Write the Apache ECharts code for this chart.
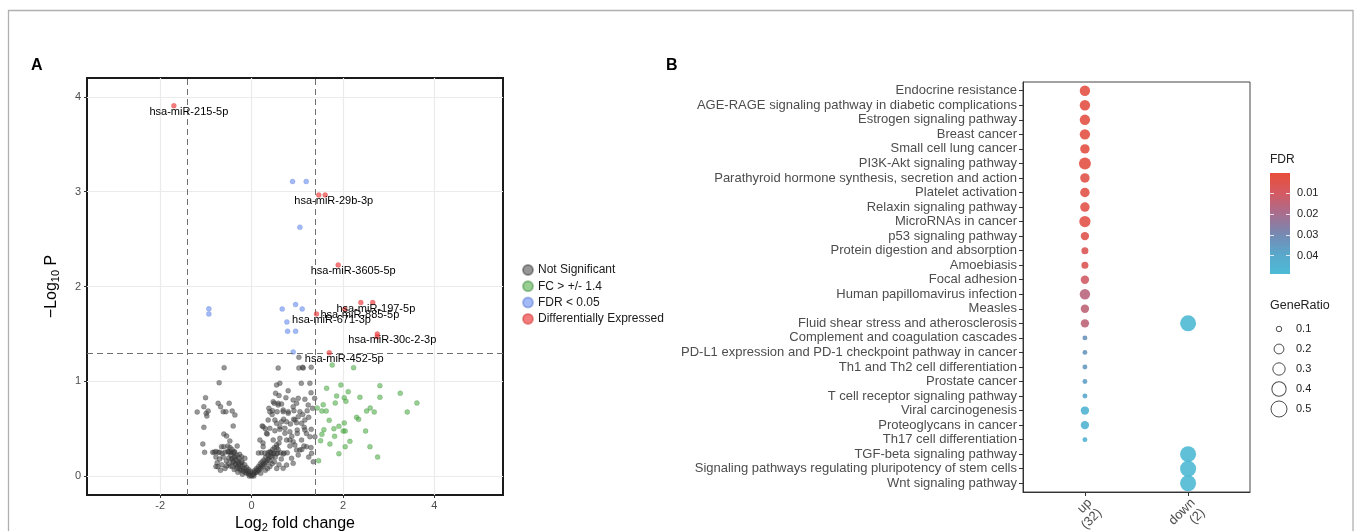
<!DOCTYPE html>
<html><head><meta charset="utf-8">
<script src="https://cdn.jsdelivr.net/npm/echarts@6/dist/echarts.min.js"></script>
<style>html,body{margin:0;padding:0;background:#fff}#c{width:1356px;height:531px}</style>
</head><body><div id="c"></div>
<script>
// ---------- Panel A: volcano ----------
const volcanoXTicks = [-2, 0, 2, 4];
const volcanoYTicks = [0, 1, 2, 3, 4];
const fcCut = 1.4;
const pCut = 1.30103;
const legendNames = ['Not Significant', 'FC > +/- 1.4', 'FDR < 0.05', 'Differentially Expressed'];

const notSigPoints = [
  [-0.60,1.144],[-0.709,0.985],[-1.007,0.827],[-1.044,0.732],[-0.95,0.686],[-0.993,0.662],[-0.978,0.634],[-1.19,0.676],
  [-0.731,0.768],[-0.678,0.732],[-0.49,0.768],[-0.621,0.679],[-0.562,0.679],[-0.424,0.686],[-0.365,0.644],[-1.044,0.514],
  [-0.402,0.528],[-0.606,0.443],[-0.547,0.422],[-0.475,0.370],[-1.066,0.338],[-1.028,0.250],[-0.818,0.250],[-0.731,0.250],
  [-0.657,0.310],[-0.606,0.310],[-0.519,0.317],[-0.315,0.317],[-0.49,0.250],[-0.402,0.246],[-0.263,0.229],[-0.753,0.141],
  [-0.737,0.099],[-0.547,0.106],[-0.468,0.106],[-0.402,0.151],[-0.328,0.081],[-0.219,0.204],[-0.147,0.187],
  [-0.85,0.25],[-0.78,0.26],[-0.70,0.25],[-0.64,0.24],[-0.58,0.25],[-0.52,0.26],[-0.45,0.25],[-0.38,0.26],
  [-0.78,0.2],[-0.7,0.18],[-0.62,0.2],[-0.55,0.16],[-0.5,0.19],[-0.44,0.18],[-0.36,0.2],[-0.3,0.16],[-0.65,0.12],
  [-0.58,0.08],[-0.5,0.13],[-0.42,0.1],[-0.35,0.13],[-0.28,0.12],[-0.22,0.14],[-0.25,0.06],[-0.78,0.1],[-0.68,0.06],
  [-0.45,0.22],[-0.42,0.18],[-0.4,0.15],[-0.38,0.2],[-0.35,0.12],[-0.33,0.17],[-0.3,0.1],[-0.28,0.14],[-0.26,0.08],
  [-0.24,0.12],[-0.22,0.07],[-0.2,0.1],[-0.18,0.05],[-0.16,0.08],[-0.14,0.04],[-0.12,0.06],[-0.1,0.03],[-0.08,0.05],
  [-0.06,0.02],[-0.04,0.03],[-0.02,0.01],[0,0],[0.02,0.01],[0.04,0.02],[0.06,0.03],[0.08,0.04],[0.1,0.05],[0.12,0.04],
  [0.14,0.07],[0.16,0.06],[0.18,0.09],[0.2,0.08],[0.22,0.11],[0.24,0.1],[0.26,0.13],[0.28,0.12],[0.3,0.15],[0.32,0.14],
  [0.35,0.17],[0.38,0.19],[0.4,0.16],[0.42,0.21],[0.45,0.2],[0.48,0.24],
  [-0.5,0.26],[-0.47,0.3],[-0.43,0.28],[-0.37,0.25],[-0.32,0.22],[-0.27,0.19],[-0.21,0.15],[-0.15,0.12],[-0.11,0.09],
  [-0.07,0.07],[-0.03,0.05],[0.03,0.04],[0.07,0.06],[0.11,0.08],[0.15,0.1],[0.19,0.13],[0.23,0.15],[0.27,0.17],
  [0.31,0.2],[0.36,0.22],[0.41,0.25],[0.46,0.28],[0.5,0.3],[0.55,0.33],[0.6,0.35],[0.52,0.2],[0.58,0.28],
  [-0.3,0.04],[-0.2,0.02],[0.2,0.03],[0.3,0.06],[0.35,0.08],[-0.38,0.07],[0.4,0.1],[0.45,0.13],[0.05,0.0],[-0.05,0.0],
  [1.035,1.253],[0.582,1.140],[1.035,1.140],[1.129,1.140],[0.619,0.979],[0.547,0.961],[1.088,0.979],[1.276,0.979],
  [0.525,0.873],[0.751,0.827],[0.910,0.803],[1.020,0.820],[1.166,0.810],[0.495,0.768],[0.582,0.768],[0.656,0.760],
  [0.985,0.768],[1.239,0.750],[0.379,0.715],[0.459,0.690],[0.560,0.679],[0.691,0.679],[0.801,0.679],[0.926,0.690],
  [1.057,0.679],[1.217,0.690],[1.335,0.715],[0.363,0.591],[0.547,0.556],[0.656,0.573],[0.766,0.573],[0.948,0.591],
  [0.985,0.563],[1.166,0.591],[0.400,0.503],[0.510,0.478],[0.619,0.493],[0.729,0.503],[0.838,0.468],[0.998,0.486],
  [1.151,0.514],[1.304,0.493],[0.232,0.528],[0.341,0.444],[0.473,0.380],[0.619,0.398],[0.766,0.380],[0.910,0.363],
  [1.094,0.380],[1.203,0.309],[1.385,0.415],[0.838,0.317],[0.985,0.275],[1.145,0.317],[1.313,0.240],[1.020,0.222],
  [0.875,0.187],[0.766,0.116],[0.910,0.134],[0.691,0.081],
  [0.15,0.243],[0.22,0.245],[0.29,0.243],[0.36,0.245],[0.43,0.243],[0.50,0.245],[0.57,0.243],[0.64,0.245],[0.71,0.243],[0.78,0.245],
  [1.116,1.148],[1.304,1.148],
  [1.3,0.3],[1.35,0.15],[1.25,0.2],[1.1,0.28],[1.0,0.45],[0.85,0.55],[0.7,0.6],[0.45,0.65],[0.3,0.5],[0.25,0.35],
  [0.55,0.3],[0.65,0.18],[0.6,0.12],[0.55,0.08],[0.5,0.15],[1.2,0.45],[1.25,0.62],[0.88,0.42],[0.92,0.6],[1.12,0.65],
  [0.6,0.85],[0.8,0.9],[1.38,0.82],[1.3,0.88],
  [0.474,0.785],[0.582,0.750],[0.692,0.697],[0.801,0.662],[0.911,0.732],[1.020,0.626],[1.094,0.556],[1.166,0.486],
  [1.276,0.415],[0.400,0.679],[0.510,0.591],[0.619,0.521],[0.729,0.451],[0.838,0.380],[0.947,0.327],[1.057,0.275],
  [0.254,0.521],[0.328,0.451],[0.182,0.380],[0.254,0.310],[0.400,0.257],[0.547,0.236],[0.692,0.232]
];

const fcPoints = [
  [1.764,1.172],[2.232,1.144],[1.641,0.926],[1.954,0.961],[2.114,0.890],[2.807,0.954],[1.860,0.845],[2.027,0.827],
  [2.807,0.831],[3.252,0.873],[2.370,0.831],[1.436,0.718],[1.567,0.753],[1.830,0.771],[2.064,0.789],[1.538,0.686],
  [1.633,0.686],[2.516,0.686],[2.595,0.718],[2.683,0.676],[3.405,0.676],[3.617,0.771],[2.297,0.620],[2.341,0.599],
  [1.698,0.588],[2.027,0.560],[1.910,0.525],[1.801,0.500],[1.582,0.489],[1.538,0.440],[2.004,0.475],[2.048,0.475],
  [2.494,0.475],[1.816,0.419],[2.151,0.366],[1.510,0.373],[1.713,0.338],[2.048,0.310],[2.589,0.310],[1.910,0.236],
  [2.757,0.201],[1.466,0.162]
];

const fdrPoints = [
  [0.897,3.108],[1.195,3.108],[1.057,2.626],[0.67,1.763],[0.963,1.809],[1.107,1.763],[0.772,1.626],[0.788,1.528],
  [0.963,1.528],[0.91,1.309],[-0.934,1.764],[-0.934,1.71]
];

const dePoints = [
  [-1.70,3.907],[1.47,2.965],[1.61,2.965],[1.895,2.228],[2.39,1.83],[2.65,1.83],[2.04,1.76],[1.42,1.71],
  [2.75,1.50],[2.75,1.47],[1.70,1.30]
];
const deLabels = [
  'hsa-miR-215-5p','hsa-miR-29b-3p','','hsa-miR-3605-5p','hsa-miR-197-5p','','hsa-miR-885-5p','hsa-miR-671-3p',
  'hsa-miR-30c-2-3p','','hsa-miR-452-5p'
];

// ---------- Panel B: KEGG dot plot ----------
const pathways = [
  'Endocrine resistance',
  'AGE-RAGE signaling pathway in diabetic complications',
  'Estrogen signaling pathway',
  'Breast cancer',
  'Small cell lung cancer',
  'PI3K-Akt signaling pathway',
  'Parathyroid hormone synthesis, secretion and action',
  'Platelet activation',
  'Relaxin signaling pathway',
  'MicroRNAs in cancer',
  'p53 signaling pathway',
  'Protein digestion and absorption',
  'Amoebiasis',
  'Focal adhesion',
  'Human papillomavirus infection',
  'Measles',
  'Fluid shear stress and atherosclerosis',
  'Complement and coagulation cascades',
  'PD-L1 expression and PD-1 checkpoint pathway in cancer',
  'Th1 and Th2 cell differentiation',
  'Prostate cancer',
  'T cell receptor signaling pathway',
  'Viral carcinogenesis',
  'Proteoglycans in cancer',
  'Th17 cell differentiation',
  'TGF-beta signaling pathway',
  'Signaling pathways regulating pluripotency of stem cells',
  'Wnt signaling pathway'
];
const groups = ['up\n(32)', 'down\n(2)'];
const upFDR = [0.003,0.003,0.003,0.003,0.003,0.003,0.004,0.004,0.004,0.004,0.005,0.007,0.007,0.011,0.016,0.015,0.015,
  0.033,0.034,0.035,0.037,0.039,0.045,0.045,0.045,null,null,null];
const upRatio = [7/32,7/32,7/32,7/32,6/32,9/32,6/32,6/32,6/32,8/32,5/32,4/32,4/32,5/32,7/32,5/32,5/32,
  3/32,3/32,3/32,3/32,3/32,5/32,5/32,3/32,null,null,null];
const downFDR = [null,null,null,null,null,null,null,null,null,null,null,null,null,null,null,null,0.048,
  null,null,null,null,null,null,null,null,0.048,0.048,0.048];
const downRatio = [null,null,null,null,null,null,null,null,null,null,null,null,null,null,null,null,0.5,
  null,null,null,null,null,null,null,null,0.5,0.5,0.5];
const fdrTicks = [0.01, 0.02, 0.03, 0.04];
const fdrRange = [0.0004, 0.0488];
const ratioTicks = [0.1, 0.2, 0.3, 0.4, 0.5];

// ---------- build ----------
const FONT = '"Liberation Sans", Arial, Helvetica, sans-serif';
const fdrColors = ['#E84E3A', '#D45A62', '#A96D8E', '#7788B2', '#5AA7CB', '#4DBBD5'];
function ratioToSize(g) { return 3 + 13 * Math.sqrt(Math.max(0, g - 0.085) / 0.415); }

const dotData = [];
pathways.forEach((p, i) => {
  if (upRatio[i] != null) dotData.push([0, i, upFDR[i], upRatio[i]]);
  if (downRatio[i] != null) dotData.push([1, i, downFDR[i], downRatio[i]]);
});
const rowIdx = pathways.map((p, i) => i);

const chart = echarts.init(document.getElementById('c'), null, { renderer: 'canvas' });
const option = {
  animation: false,
  backgroundColor: '#fff',
  textStyle: { fontFamily: FONT },
  title: [
    { text: 'A', left: 31, top: 58, padding: 0, textStyle: { fontSize: 16, fontWeight: 'bold', color: '#000', fontFamily: FONT } },
    { text: 'B', left: 666, top: 58, padding: 0, textStyle: { fontSize: 16, fontWeight: 'bold', color: '#000', fontFamily: FONT } },
    { text: 'FDR', left: 1270, top: 154, padding: 0, textStyle: { fontSize: 12, fontWeight: 'normal', color: '#222', fontFamily: FONT } },
    { text: 'GeneRatio', left: 1270, top: 299, padding: 0, textStyle: { fontSize: 12.5, fontWeight: 'normal', color: '#222', fontFamily: FONT } }
  ],
  graphic: [
    { type: 'rect', shape: { x: 8.5, y: 10.5, width: 1344.5, height: 700 }, style: { fill: 'none', stroke: '#b0b0b0', lineWidth: 1.3 }, silent: true, z: -10 }
  ],
  legend: {
    data: legendNames, orient: 'vertical', left: 522, top: 264, itemWidth: 10, itemHeight: 10, itemGap: 4.3,
    icon: 'circle', textStyle: { fontSize: 12, color: '#1a1a1a', fontFamily: FONT }, padding: 0, selectedMode: false
  },
  visualMap: {
    type: 'continuous', show: false, min: fdrRange[0], max: fdrRange[1], dimension: 2, seriesIndex: 4,
    inRange: { color: fdrColors }
  },
  grid: [
    { left: 87, top: 78, width: 416, height: 417, show: true, borderColor: '#1a1a1a', borderWidth: 2, backgroundColor: '#fff', outerBoundsMode: 'none' },
    { left: 1023, top: 82, width: 227, height: 410, show: true, borderColor: '#444', borderWidth: 1, outerBoundsMode: 'none' },
    { left: 1272, top: 319, width: 14, height: 100, outerBoundsMode: 'none' },
    { left: 1270, top: 173, width: 20, height: 101, show: true, borderWidth: 0, outerBoundsMode: 'none',
      backgroundColor: new echarts.graphic.LinearGradient(0, 0, 0, 1, fdrColors.map((c, i) => ({ offset: i / (fdrColors.length - 1), color: c }))) }
  ],
  xAxis: [
    { type: 'value', gridIndex: 0, min: -3.6, max: 5.5,
      axisLine: { show: false, onZero: false },
      axisTick: { show: true, customValues: volcanoXTicks, length: 3, lineStyle: { color: '#333' } },
      axisLabel: { customValues: volcanoXTicks, color: '#4d4d4d', fontSize: 11, margin: 5, fontFamily: FONT },
      splitLine: { show: true, customValues: volcanoXTicks, lineStyle: { color: '#ebebeb', width: 1.2 } },
      name: '{n|Log}{s|2}{n| fold change}', nameLocation: 'middle', nameGap: 16,
      nameTextStyle: { rich: { n: { fontSize: 16, color: '#000', fontFamily: FONT }, s: { fontSize: 11, color: '#000', padding: [8, 0, 0, 0], fontFamily: FONT } } } },
    { type: 'value', gridIndex: 1, min: -0.6, max: 1.6,
      axisLine: { show: true, onZero: false, lineStyle: { color: '#333' } },
      axisTick: { show: true, customValues: [0, 1], length: 4, lineStyle: { color: '#333' } },
      axisLabel: { customValues: [0, 1], formatter: v => groups[Math.round(v)], rotate: 45, verticalAlign: 'top', color: '#4d4d4d', fontSize: 13, margin: 4, fontFamily: FONT, lineHeight: 14 },
      splitLine: { show: false } },
    { type: 'value', gridIndex: 2, min: -1, max: 1, show: false },
    { type: 'value', gridIndex: 3, min: 0, max: 1, show: false }
  ],
  yAxis: [
    { type: 'value', gridIndex: 0, min: -0.2, max: 4.2,
      axisLine: { show: false, onZero: false },
      axisTick: { show: true, customValues: volcanoYTicks, length: 3, lineStyle: { color: '#333' } },
      axisLabel: { customValues: volcanoYTicks, color: '#4d4d4d', fontSize: 11, margin: 6, fontFamily: FONT },
      splitLine: { show: true, customValues: volcanoYTicks, lineStyle: { color: '#ebebeb', width: 1.2 } },
      name: '{n|\u2212Log}{s|10}{n| P}', nameLocation: 'middle', nameGap: 26,
      nameTextStyle: { rich: { n: { fontSize: 16, color: '#000', fontFamily: FONT }, s: { fontSize: 11, color: '#000', padding: [8, 0, 0, 0], fontFamily: FONT } } } },
    { type: 'value', gridIndex: 1, min: -0.6, max: pathways.length - 0.4, inverse: true,
      axisLine: { show: true, onZero: false, lineStyle: { color: '#333' } },
      axisTick: { show: true, customValues: rowIdx, length: 4, lineStyle: { color: '#333' } },
      axisLabel: { customValues: rowIdx, formatter: v => pathways[Math.round(v)], color: '#4d4d4d', fontSize: 13, margin: 6, fontFamily: FONT },
      splitLine: { show: false } },
    { type: 'category', gridIndex: 2, data: ratioTicks.map(String), inverse: true, position: 'right',
      axisLine: { show: false, onZero: false }, axisTick: { show: false }, splitLine: { show: false },
      axisLabel: { color: '#222', fontSize: 11, margin: 10, fontFamily: FONT } },
    { type: 'value', gridIndex: 3, min: fdrRange[0], max: fdrRange[1], inverse: true, position: 'right',
      axisLine: { show: false, onZero: false }, splitLine: { show: false },
      axisTick: { show: true, inside: true, customValues: fdrTicks, length: 4, lineStyle: { color: 'rgba(255,255,255,0.8)' } },
      axisLabel: { customValues: fdrTicks, formatter: v => v.toFixed(2), color: '#222', fontSize: 11, margin: 7, fontFamily: FONT } },
    { type: 'value', gridIndex: 3, min: fdrRange[0], max: fdrRange[1], inverse: true, position: 'left',
      axisLine: { show: false, onZero: false }, splitLine: { show: false },
      axisTick: { show: true, inside: true, customValues: fdrTicks, length: 4, lineStyle: { color: 'rgba(255,255,255,0.8)' } },
      axisLabel: { show: false } }
  ],
  series: [
    { name: legendNames[0], type: 'scatter', xAxisIndex: 0, yAxisIndex: 0, data: notSigPoints, symbolSize: 5,
      itemStyle: { color: 'rgba(70,70,70,0.7)', borderColor: 'rgba(30,30,30,0.5)', borderWidth: 0.5 },
      markLine: { silent: true, symbol: ['none', 'none'], label: { show: false },
        lineStyle: { type: [6, 4], color: '#707070', width: 1 },
        data: [{ xAxis: -fcCut }, { xAxis: fcCut }, { yAxis: pCut }] } },
    { name: legendNames[1], type: 'scatter', xAxisIndex: 0, yAxisIndex: 0, data: fcPoints, symbolSize: 5,
      itemStyle: { color: 'rgba(70,170,60,0.7)', borderColor: 'rgba(40,120,40,0.5)', borderWidth: 0.5 } },
    { name: legendNames[2], type: 'scatter', xAxisIndex: 0, yAxisIndex: 0, data: fdrPoints, symbolSize: 5,
      itemStyle: { color: 'rgba(100,140,240,0.75)', borderColor: 'rgba(70,100,200,0.5)', borderWidth: 0.5 } },
    { name: legendNames[3], type: 'scatter', xAxisIndex: 0, yAxisIndex: 0, symbolSize: 5, z: 5,
      data: dePoints.map((p, i) => ({ name: deLabels[i], value: p })),
      itemStyle: { color: 'rgba(240,50,50,0.8)', borderColor: 'rgba(200,30,30,0.5)', borderWidth: 0.5 },
      label: { show: true, position: 'inside', offset: [15, 6], formatter: p => p.name, color: '#000', opacity: 1, fontSize: 11, fontFamily: FONT } },
    { name: 'kegg', type: 'scatter', xAxisIndex: 1, yAxisIndex: 1, data: dotData,
      symbolSize: v => ratioToSize(v[3]), itemStyle: { opacity: 0.9 } },
    { name: 'sizeLegend', type: 'scatter', xAxisIndex: 2, yAxisIndex: 2,
      data: ratioTicks.map((r, i) => [0, i]),
      symbolSize: v => ratioToSize(ratioTicks[v[1]]),
      itemStyle: { color: 'rgba(0,0,0,0)', borderColor: '#222', borderWidth: 1 } }
  ]
};
chart.setOption(option);
</script>
</body></html>
